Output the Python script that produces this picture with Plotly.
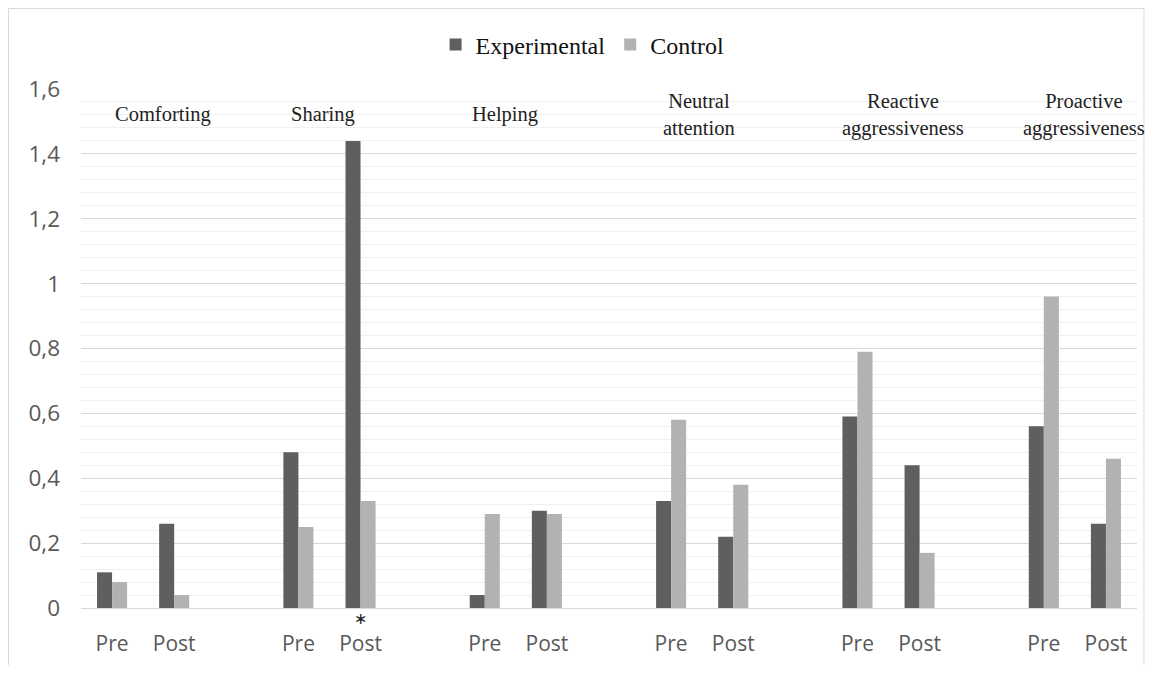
import plotly.graph_objects as go

groups = ["Comforting", "Sharing", "Helping", "Neutral<br>attention",
          "Reactive<br>aggressiveness", "Proactive<br>aggressiveness"]
phases = ["Pre", "Post"]
experimental = [0.11, 0.26, 0.48, 1.44, 0.04, 0.30, 0.33, 0.22, 0.59, 0.44, 0.56, 0.26]
control = [0.08, 0.04, 0.25, 0.33, 0.29, 0.29, 0.58, 0.38, 0.79, 0.17, 0.96, 0.46]
y_ticks = [0, 0.2, 0.4, 0.6, 0.8, 1.0, 1.2, 1.4, 1.6]
y_ticktext = ["0", "0,2", "0,4", "0,6", "0,8", "1", "1,2", "1,4", "1,6"]

# slot positions: each group has Pre, Post and an empty spacer slot
xpos = []
for g in range(len(groups)):
    for p in range(len(phases)):
        xpos.append(3 * g + p)
xlabels = [phases[i % 2] for i in range(len(xpos))]

# group label placement (slot coordinates)
label_x = [0.82, 3.39, 6.32, 9.45, 12.74, 15.65]

fig = go.Figure()
fig.add_trace(go.Bar(x=xpos, y=experimental, name="Experimental",
                     marker=dict(color="#5f5f5f", line=dict(width=0))))
fig.add_trace(go.Bar(x=xpos, y=control, name="Control",
                     marker=dict(color="#b2b2b2", line=dict(width=0))))

for name, lx in zip(groups, label_x):
    fig.add_annotation(x=lx, y=1.52, xref="x", yref="y", text=name, showarrow=False,
                       font=dict(family="Liberation Serif", size=20.5, color="#222222"),
                       align="center", yanchor="middle")

fig.add_annotation(x=4, y=-0.021, xref="x", yref="paper", text="\u2217", showarrow=False,
                   font=dict(family="DejaVu Sans", size=16, color="#222222"),
                   yanchor="middle")

fig.add_shape(type="rect", xref="paper", yref="paper",
              x0=-0.0687, x1=1.0066, y0=-0.2, y1=1.155,
              line=dict(color="#d9d9d9", width=1), fillcolor="rgba(0,0,0,0)")

fig.update_layout(
    width=1137, height=657,
    margin=dict(l=73, r=8, t=81, b=57),
    plot_bgcolor="white", paper_bgcolor="white",
    barmode="group", bargap=0.516, bargroupgap=0,
    showlegend=True,
    legend=dict(orientation="h", x=0.475, xanchor="center", y=1.085, yanchor="middle",
                font=dict(family="Liberation Serif", size=24, color="#111111"),
                itemclick=False, traceorder="normal"),
    xaxis=dict(range=[-0.5, 16.5], tickvals=xpos, ticktext=xlabels, showgrid=False,
               zeroline=False, showline=True, linecolor="#d9d9d9", linewidth=1,
               ticks="", ticklabelstandoff=17,
               tickfont=dict(family="Open Sans", size=21, color="#595959")),
    yaxis=dict(range=[0, 1.6], tickvals=y_ticks, ticktext=y_ticktext,
               showgrid=True, gridcolor="#d9d9d9", gridwidth=1, zeroline=False,
               ticks="", ticklabelstandoff=20,
               tickfont=dict(family="Open Sans", size=22.5, color="#595959"),
               minor=dict(dtick=0.04, tick0=0, showgrid=True, gridcolor="#f0f0f0", gridwidth=1)),
)

fig.write_html("out.html")
